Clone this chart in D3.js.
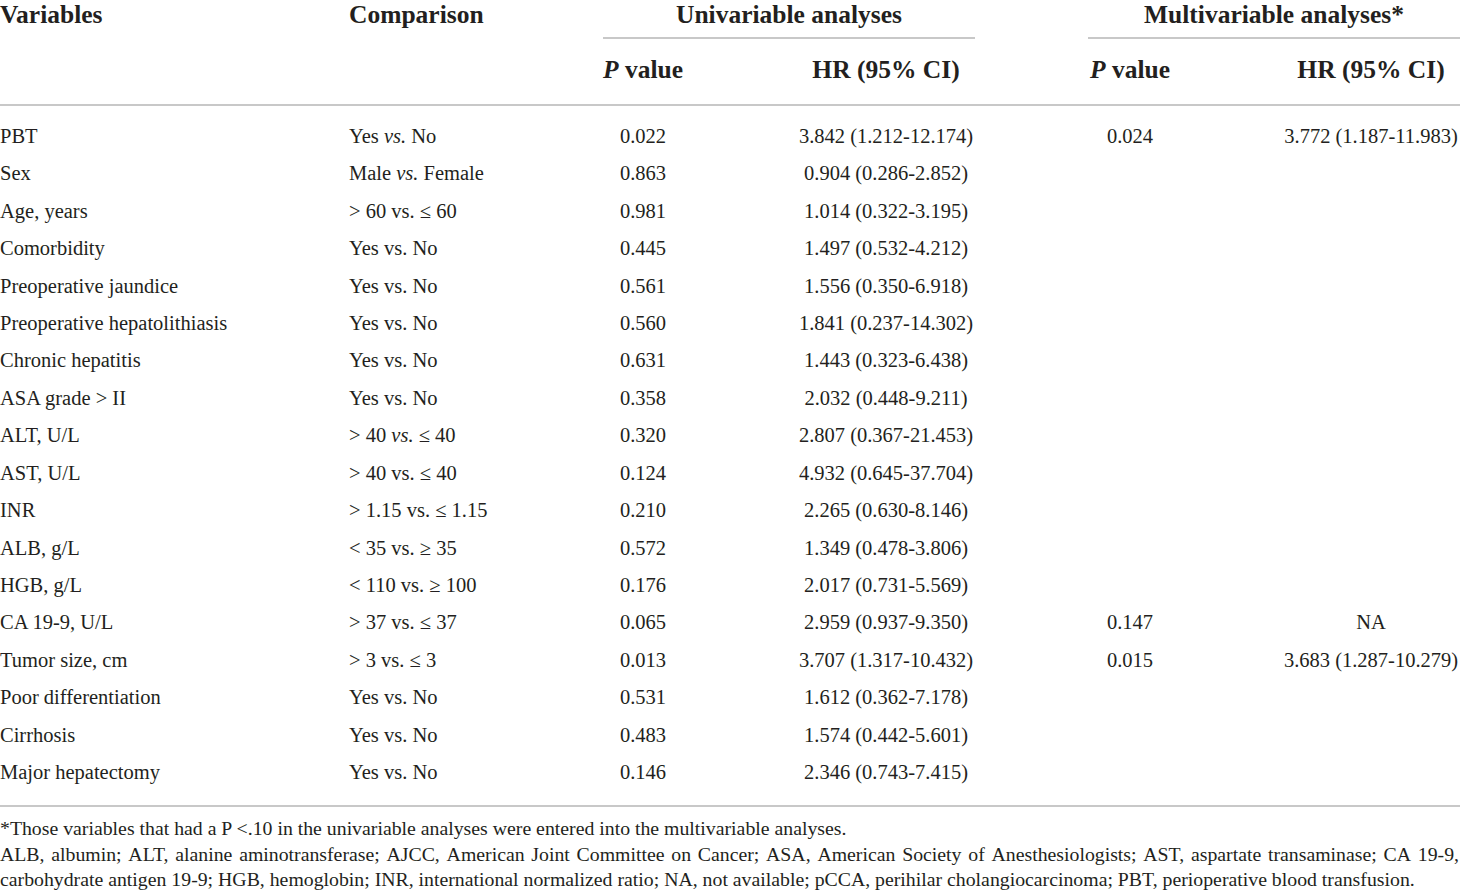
<!DOCTYPE html>
<html>
<head>
<meta charset="utf-8">
<script src="https://cdn.jsdelivr.net/npm/d3@7"></script>
<style>
  body { margin: 0; background: #fff; }
  svg { display: block; font-family: "Liberation Serif", "DejaVu Serif", serif; fill: #231f20; }
  .head { font-weight: bold; font-size: 25.5px; }
  .cell { font-size: 20.5px; }
  .note { font-size: 19.8px; }
  .rule { stroke: #c8c8c8; stroke-width: 2; }
</style>
</head>
<body>
<div id="chart"></div>
<script>
// table contents
const variables = [
  'PBT', 'Sex', 'Age, years', 'Comorbidity', 'Preoperative jaundice',
  'Preoperative hepatolithiasis', 'Chronic hepatitis', 'ASA grade > II',
  'ALT, U/L', 'AST, U/L', 'INR', 'ALB, g/L', 'HGB, g/L', 'CA 19-9, U/L',
  'Tumor size, cm', 'Poor differentiation', 'Cirrhosis', 'Major hepatectomy'
];
const comparisons = [
  'Yes vs. No', 'Male vs. Female', '> 60 vs. ≤ 60', 'Yes vs. No', 'Yes vs. No',
  'Yes vs. No', 'Yes vs. No', 'Yes vs. No', '> 40 vs. ≤ 40', '> 40 vs. ≤ 40',
  '> 1.15 vs. ≤ 1.15', '< 35 vs. ≥ 35', '< 110 vs. ≥ 100', '> 37 vs. ≤ 37',
  '> 3 vs. ≤ 3', 'Yes vs. No', 'Yes vs. No', 'Yes vs. No'
];
// rows where "vs." is set in italics
const italicVs = ['PBT', 'Sex', 'ALT, U/L'];
const uniP = [
  '0.022', '0.863', '0.981', '0.445', '0.561', '0.560', '0.631', '0.358', '0.320',
  '0.124', '0.210', '0.572', '0.176', '0.065', '0.013', '0.531', '0.483', '0.146'
];
const uniHR = [
  '3.842 (1.212-12.174)', '0.904 (0.286-2.852)', '1.014 (0.322-3.195)',
  '1.497 (0.532-4.212)', '1.556 (0.350-6.918)', '1.841 (0.237-14.302)',
  '1.443 (0.323-6.438)', '2.032 (0.448-9.211)', '2.807 (0.367-21.453)',
  '4.932 (0.645-37.704)', '2.265 (0.630-8.146)', '1.349 (0.478-3.806)',
  '2.017 (0.731-5.569)', '2.959 (0.937-9.350)', '3.707 (1.317-10.432)',
  '1.612 (0.362-7.178)', '1.574 (0.442-5.601)', '2.346 (0.743-7.415)'
];
const multiP = ['0.024', '', '', '', '', '', '', '', '', '', '', '', '', '0.147', '0.015', '', '', ''];
const multiHR = ['3.772 (1.187-11.983)', '', '', '', '', '', '', '', '', '', '', '', '', 'NA', '3.683 (1.287-10.279)', '', '', ''];

const footnotes = [
  '*Those variables that had a P <.10 in the univariable analyses were entered into the multivariable analyses.',
  'ALB, albumin; ALT, alanine aminotransferase; AJCC, American Joint Committee on Cancer; ASA, American Society of Anesthesiologists; AST, aspartate transaminase; CA 19-9,',
  'carbohydrate antigen 19-9; HGB, hemoglobin; INR, international normalized ratio; NA, not available; pCCA, perihilar cholangiocarcinoma; PBT, perioperative blood transfusion.'
];

const width = 1460;
const height = 892;

const svg = d3.select('#chart')
  .append('svg')
  .attr('width', width)
  .attr('height', height);

// column centres / left edges
const col = { variable: 0, comparison: 349, uniP: 643, uniHR: 886, multiP: 1130, multiHR: 1371 };

const yScale = d3.scaleBand()
  .domain(variables)
  .range([117.3, 790.7]);

// rules
const rules = [
  { x1: 603, x2: 975, y: 38 },
  { x1: 1088, x2: 1460, y: 38 },
  { x1: 0, x2: 1460, y: 105 },
  { x1: 0, x2: 1460, y: 806 }
];
svg.append('g')
  .selectAll('line')
  .data(rules)
  .join('line')
  .attr('class', 'rule')
  .attr('x1', (d) => d.x1)
  .attr('x2', (d) => d.x2)
  .attr('y1', (d) => d.y)
  .attr('y2', (d) => d.y);

// header
const head = svg.append('g').attr('class', 'head');
head.append('text').attr('x', col.variable).attr('y', 23).text('Variables');
head.append('text').attr('x', col.comparison).attr('y', 23).text('Comparison');
head.append('text').attr('x', (603 + 975) / 2).attr('y', 23).attr('text-anchor', 'middle').text('Univariable analyses');
head.append('text').attr('x', (1088 + 1460) / 2).attr('y', 23).attr('text-anchor', 'middle').text('Multivariable analyses*');

[col.uniP, col.multiP].forEach((x) => {
  const t = head.append('text').attr('x', x).attr('y', 78).attr('text-anchor', 'middle');
  t.append('tspan').style('font-style', 'italic').text('P');
  t.append('tspan').text(' value');
});
[col.uniHR, col.multiHR].forEach((x) => {
  head.append('text').attr('x', x).attr('y', 78).attr('text-anchor', 'middle').text('HR (95% CI)');
});

// body rows
const rows = variables.map((v, i) => ({
  variable: v,
  comparison: comparisons[i],
  uniP: uniP[i],
  uniHR: uniHR[i],
  multiP: multiP[i],
  multiHR: multiHR[i]
}));

const row = svg.append('g')
  .attr('class', 'cell')
  .selectAll('g')
  .data(rows)
  .join('g')
  .attr('transform', (d) => `translate(0, ${yScale(d.variable) + yScale.bandwidth() / 2 + 7})`);

row.append('text').attr('x', col.variable).text((d) => d.variable);

row.append('text')
  .attr('x', col.comparison)
  .each(function (d) {
    const parts = d.comparison.split(' vs. ');
    const t = d3.select(this);
    t.append('tspan').text(parts[0] + ' ');
    t.append('tspan')
      .style('font-style', italicVs.includes(d.variable) ? 'italic' : 'normal')
      .text('vs.');
    t.append('tspan').text(' ' + parts[1]);
  });

['uniP', 'uniHR', 'multiP', 'multiHR'].forEach((key) => {
  row.append('text')
    .attr('x', col[key])
    .attr('text-anchor', 'middle')
    .text((d) => d[key]);
});

// footnotes, second line justified to full width
const note = svg.append('g').attr('class', 'note');
const noteY = [835, 861, 886];

note.append('text').attr('x', 0).attr('y', noteY[0]).text(footnotes[0]);
note.append('text').attr('x', 0).attr('y', noteY[2]).text(footnotes[2]);

const words = footnotes[1].split(' ');
const justified = note.append('text').attr('y', noteY[1]);
const spans = justified.selectAll('tspan')
  .data(words)
  .join('tspan')
  .text((d) => d);
const widths = [];
spans.each(function () { widths.push(this.getComputedTextLength()); });
const gap = (width - 1 - d3.sum(widths)) / (words.length - 1);
let cursor = 0;
spans.attr('x', (d, i) => {
  const x = cursor;
  cursor += widths[i] + gap;
  return x;
});
</script>
</body>
</html>
